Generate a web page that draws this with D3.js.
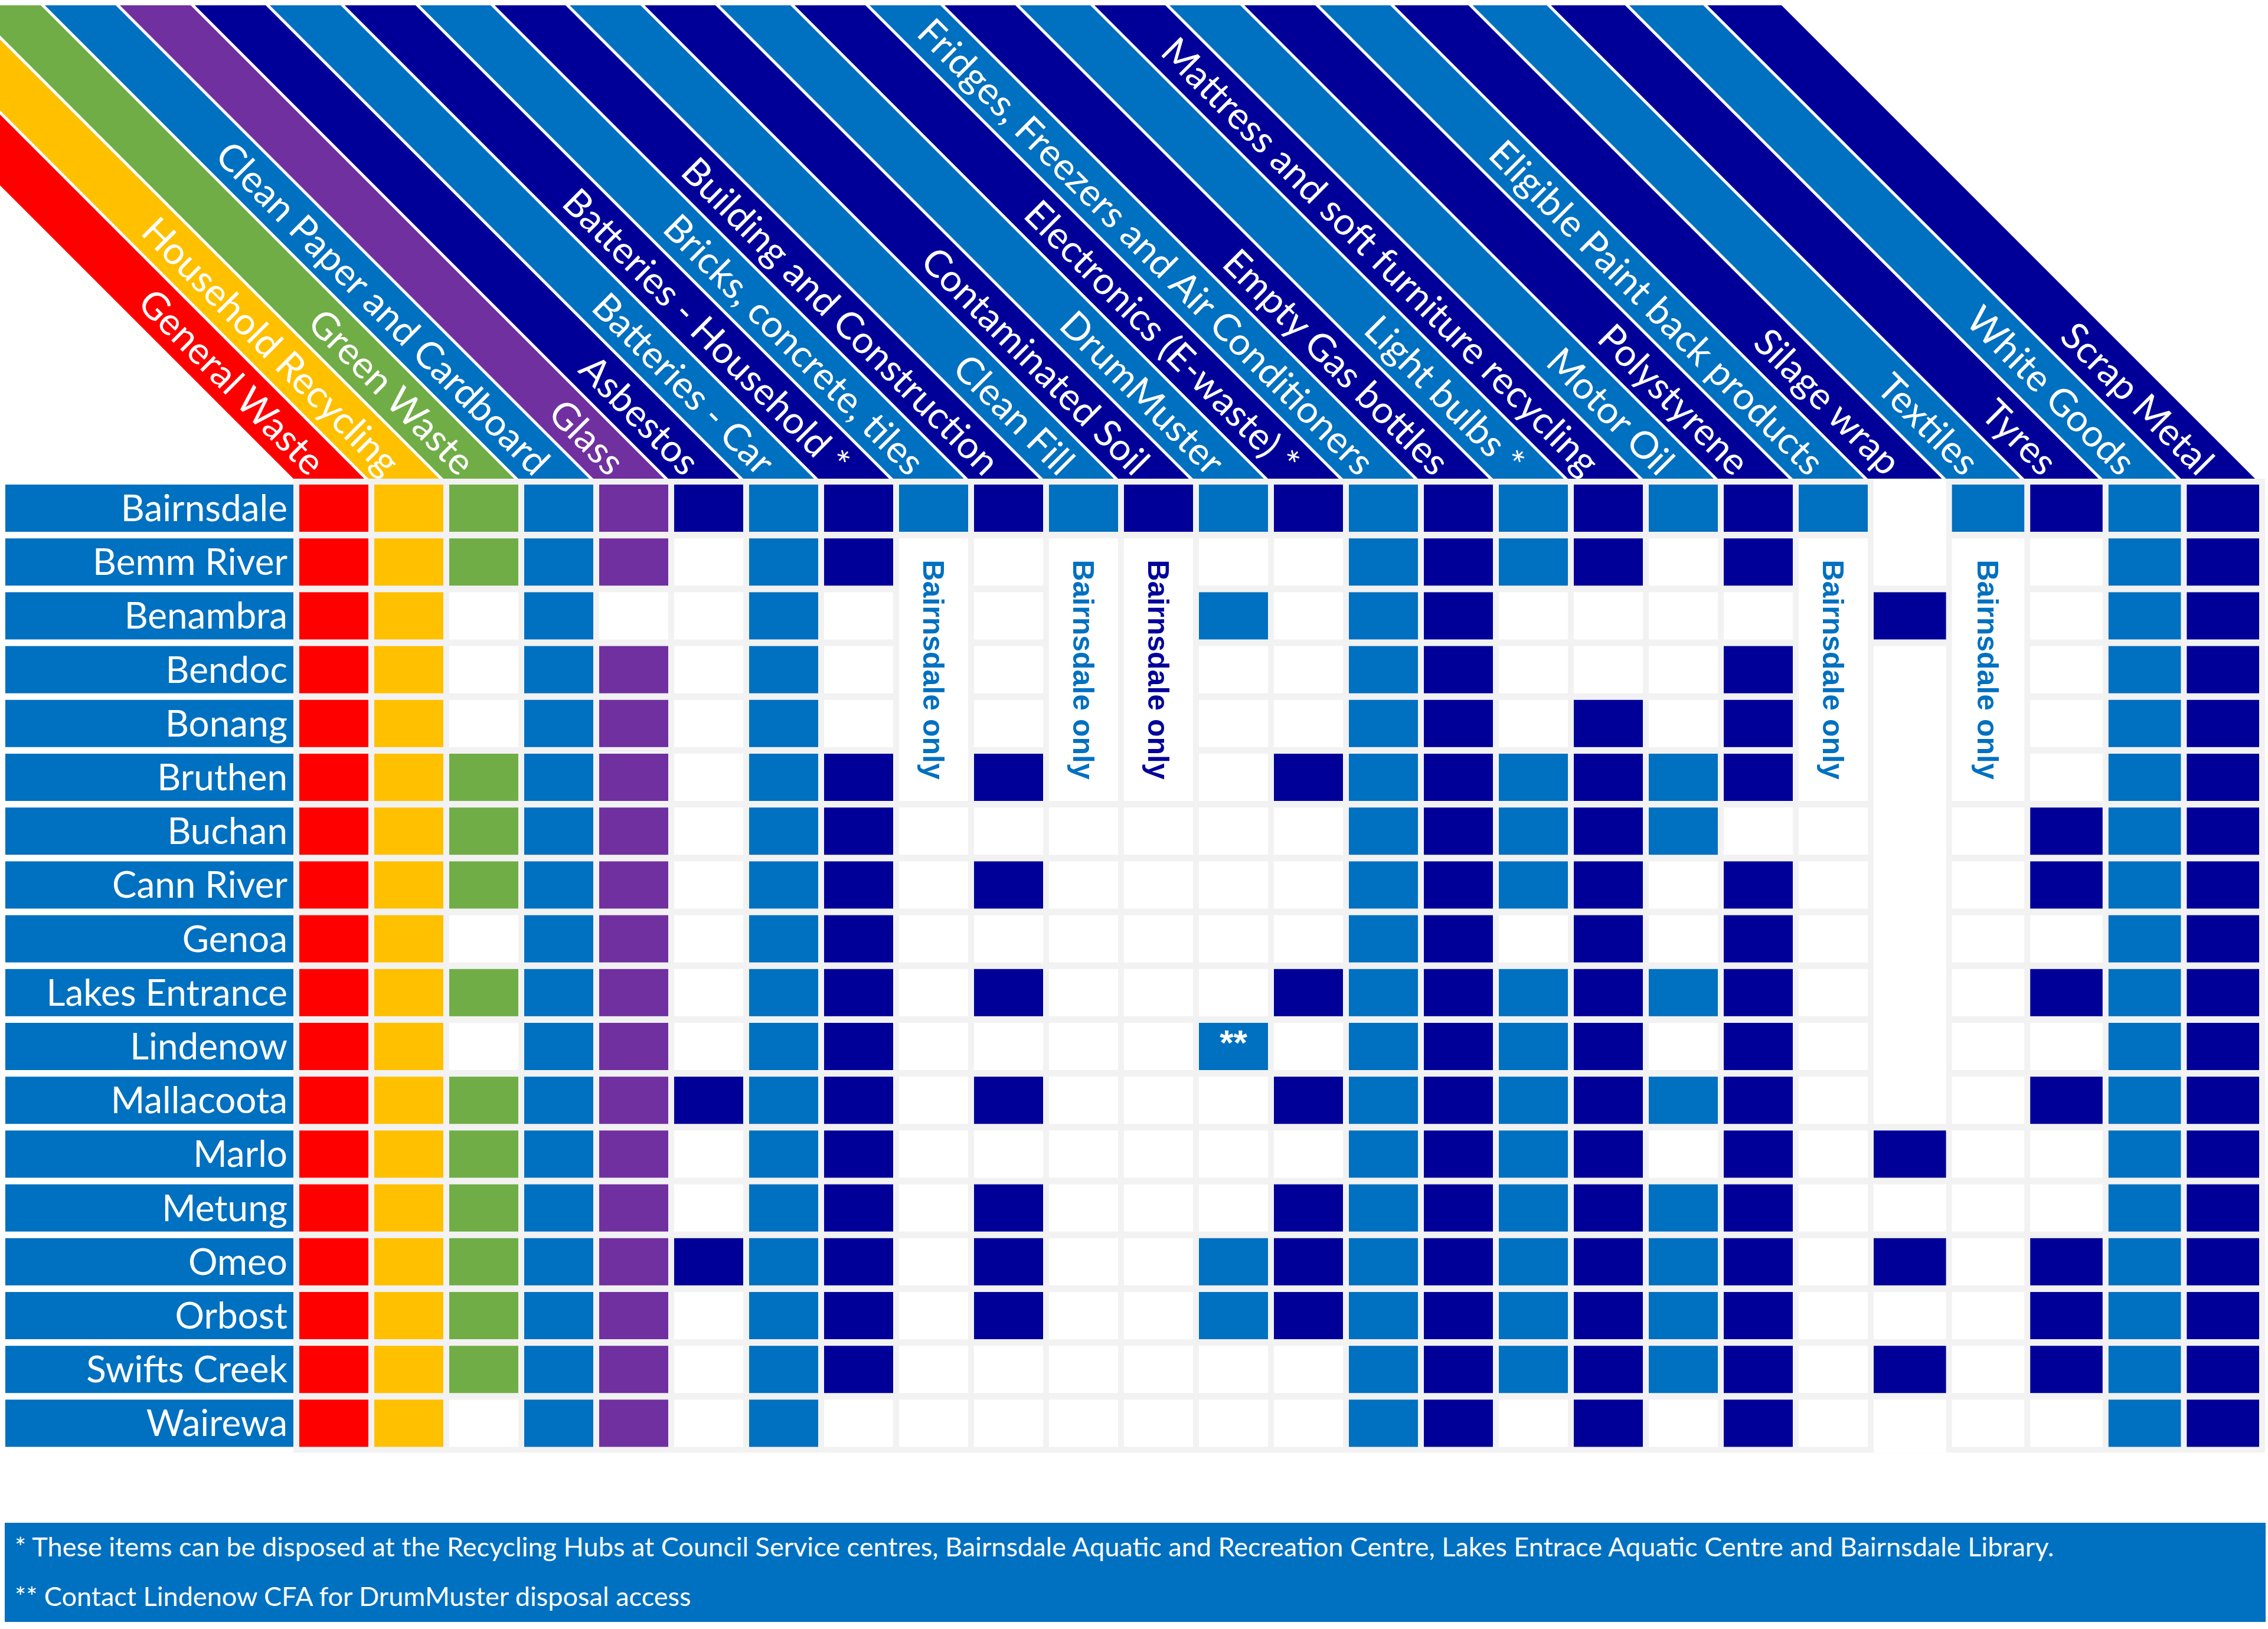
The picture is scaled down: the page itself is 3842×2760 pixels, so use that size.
<!DOCTYPE html>
<html>
<head>
<meta charset="utf-8">
<script src="https://cdn.jsdelivr.net/npm/d3@7/dist/d3.min.js"></script>
<style>
  html, body { margin: 0; padding: 0; background: #ffffff; }
  svg { display: block; }
</style>
</head>
<body>
<script>
// ---------------- DATA ----------------
const items = [
  "General Waste", "Household Recycling", "Green Waste", "Clean Paper and Cardboard",
  "Glass", "Asbestos", "Batteries - Car", "Batteries - Household *",
  "Bricks, concrete, tiles", "Building and Construction", "Clean Fill", "Contaminated Soil",
  "DrumMuster", "Electronics (E-waste) *", "Fridges, Freezers and Air Conditioners",
  "Empty Gas bottles", "Light bulbs *", "Mattress and soft furniture recycling",
  "Motor Oil", "Polystyrene", "Eligible Paint back products", "Silage wrap",
  "Textiles", "Tyres", "White Goods", "Scrap Metal"
];

const itemColors = [
  "#FF0000", "#FFC000", "#70AD47", "#0070C0", "#7030A0", "#000099",
  "#0070C0", "#000099", "#0070C0", "#000099", "#0070C0", "#000099",
  "#0070C0", "#000099", "#0070C0", "#000099", "#0070C0", "#000099",
  "#0070C0", "#000099", "#0070C0", "#000099", "#0070C0", "#000099",
  "#0070C0", "#000099"
];

const towns = [
  "Bairnsdale", "Bemm River", "Benambra", "Bendoc", "Bonang", "Bruthen",
  "Buchan", "Cann River", "Genoa", "Lakes Entrance", "Lindenow", "Mallacoota",
  "Marlo", "Metung", "Omeo", "Orbost", "Swifts Creek", "Wairewa"
];

// 1 = accepted at that site, 0 = not accepted (one character per item, grouped by 5)
const availability = [
  "11111 11111 11111 11111 10111 1", // Bairnsdale
  "11111 01100 00001 11101 00001 1", // Bemm River
  "11010 01000 00101 10000 01001 1", // Benambra
  "11011 01000 00001 10001 00001 1", // Bendoc
  "11011 01000 00001 10101 00001 1", // Bonang
  "11111 01101 00011 11111 00001 1", // Bruthen
  "11111 01100 00001 11110 00011 1", // Buchan
  "11111 01101 00001 11101 00011 1", // Cann River
  "11011 01100 00001 10101 00001 1", // Genoa
  "11111 01101 00011 11111 00011 1", // Lakes Entrance
  "11011 01100 00101 11101 00001 1", // Lindenow
  "11111 11101 00011 11111 00011 1", // Mallacoota
  "11111 01100 00001 11101 01001 1", // Marlo
  "11111 01101 00011 11111 00001 1", // Metung
  "11111 11101 00111 11111 01011 1", // Omeo
  "11111 01101 00111 11111 00011 1", // Orbost
  "11111 01100 00001 11111 01011 1", // Swifts Creek
  "11011 01000 00001 10101 00001 1"  // Wairewa
];

const bairnsdaleOnlyItems = ["Bricks, concrete, tiles", "Clean Fill", "Contaminated Soil",
                             "Eligible Paint back products", "Textiles"];
const bairnsdaleOnlyText = "Bairnsdale only";
const bairnsdaleOnlySpan = ["Bemm River", "Bruthen"];
const borderlessItems = ["Silage wrap"];
const cellNotes = [{ town: "Lindenow", item: "DrumMuster", text: "**" }];

const footnotes = [
  "* These items can be disposed at the Recycling Hubs at Council Service centres, Bairnsdale Aquatic and Recreation Centre, Lakes Entrace Aquatic Centre and Bairnsdale Library.",
  "** Contact Lindenow CFA for DrumMuster disposal access"
];

// ---------------- LAYOUT ----------------
const W = 3842, H = 2760;
const BLUE = "#0070C0", GRID = "#F2F2F2";
const labelFont = "Lato, 'Open Sans', 'DejaVu Sans', sans-serif";
const boldFont = "'Liberation Sans', Arial, sans-serif";

const svg = d3.select("body").append("svg")
  .attr("width", W).attr("height", H)
  .attr("viewBox", `0 0 ${W} ${H}`);

const colGap = 10;
const x = d3.scaleLinear().domain([0, 21, 26]).range([507, 3174, 3837]);
const rowPitch = 91.2, rowH = 80;
const y = d3.scaleLinear().domain([0, towns.length]).range([821, 821 + towns.length * rowPitch]);
const rowGap = rowPitch - rowH;
const cellW = i => x(i + 1) - x(i) - colGap;

const gridTop = y(0) - colGap;
const gridBottom = y(towns.length - 1) + rowH + colGap;
const gridLeft = x(0) - colGap;

const matrix = availability.map(s => s.replace(/\s+/g, "").split("").map(Number));

// ---------------- HEADER BANDS ----------------
const bandTop = 9, bandBottom = gridTop;
const bandH = bandBottom - bandTop;
const bands = svg.append("g").attr("class", "bands");

items.forEach((name, i) => {
  const xb = x(i) - colGap;
  const xr = x(i + 1) - colGap - 7;
  bands.append("polygon")
    .attr("points", [[xb, bandBottom], [xr, bandBottom], [xr - bandH, bandTop], [xb - bandH, bandTop]]
      .map(p => p.join(",")).join(" "))
    .attr("fill", itemColors[i]);
  const cx = (xb + xr) / 2 - 18, cy = bandBottom - 18;
  bands.append("text")
    .attr("transform", `translate(${cx},${cy}) rotate(45)`)
    .attr("text-anchor", "end")
    .attr("dy", "0.36em")
    .attr("fill", "#ffffff")
    .attr("font-family", labelFont)
    .attr("font-size", 64)
    .text(name);
});

// ---------------- GRID ----------------
svg.append("rect")
  .attr("x", gridLeft).attr("y", gridTop)
  .attr("width", x(items.length) - gridLeft)
  .attr("height", gridBottom - gridTop)
  .attr("fill", GRID);

// row label boxes
const rowsG = svg.append("g").attr("class", "rows");
towns.forEach((t, r) => {
  rowsG.append("rect")
    .attr("x", 9).attr("y", y(r))
    .attr("width", gridLeft - 9).attr("height", rowH)
    .attr("fill", BLUE);
  rowsG.append("text")
    .attr("x", gridLeft - 10).attr("y", y(r) + rowH / 2 + 22)
    .attr("text-anchor", "end")
    .attr("fill", "#ffffff")
    .attr("font-family", labelFont)
    .attr("font-size", 62)
    .text(t);
});

// cells
const cellsG = svg.append("g").attr("class", "cells");
matrix.forEach((row, r) => {
  row.forEach((v, c) => {
    if (borderlessItems.includes(items[c])) return;
    cellsG.append("rect")
      .attr("x", x(c)).attr("y", y(r))
      .attr("width", cellW(c)).attr("height", rowH)
      .attr("fill", v ? itemColors[c] : "#ffffff");
  });
});

// borderless columns (no horizontal rules except around filled cells)
borderlessItems.forEach(name => {
  const c = items.indexOf(name);
  cellsG.append("rect")
    .attr("x", x(c)).attr("y", gridTop)
    .attr("width", cellW(c)).attr("height", gridBottom - gridTop)
    .attr("fill", "#ffffff");
  matrix.forEach((row, r) => {
    if (!row[c]) return;
    cellsG.append("rect")
      .attr("x", x(c)).attr("y", y(r) - rowGap)
      .attr("width", cellW(c)).attr("height", rowH + 2 * rowGap)
      .attr("fill", GRID);
    cellsG.append("rect")
      .attr("x", x(c)).attr("y", y(r))
      .attr("width", cellW(c)).attr("height", rowH)
      .attr("fill", itemColors[c]);
  });
});

// "Bairnsdale only" merged cells
const r0 = towns.indexOf(bairnsdaleOnlySpan[0]);
const r1 = towns.indexOf(bairnsdaleOnlySpan[1]);
bairnsdaleOnlyItems.forEach(name => {
  const c = items.indexOf(name);
  const top = y(r0), bot = y(r1) + rowH;
  cellsG.append("rect")
    .attr("x", x(c)).attr("y", top)
    .attr("width", cellW(c)).attr("height", bot - top)
    .attr("fill", "#ffffff");
  cellsG.append("text")
    .attr("transform", `translate(${x(c) + cellW(c) / 2},${(top + bot) / 2}) rotate(90)`)
    .attr("text-anchor", "middle")
    .attr("dy", "0.36em")
    .attr("fill", itemColors[c])
    .attr("font-family", boldFont)
    .attr("font-weight", "bold")
    .attr("font-size", 50)
    .text(bairnsdaleOnlyText);
});

// notes inside cells
cellNotes.forEach(n => {
  const c = items.indexOf(n.item), r = towns.indexOf(n.town);
  cellsG.append("text")
    .attr("x", x(c) + cellW(c) / 2).attr("y", y(r) + 54)
    .attr("text-anchor", "middle")
    .attr("fill", "#ffffff")
    .attr("font-family", boldFont)
    .attr("font-weight", "bold")
    .attr("font-size", 60)
    .text(n.text);
});

// ---------------- FOOTER ----------------
const footTop = 2580, footBottom = 2748;
svg.append("rect")
  .attr("x", 8).attr("y", footTop)
  .attr("width", 3830).attr("height", footBottom - footTop)
  .attr("fill", BLUE);

const footG = svg.append("g");
const footTexts = footG.selectAll("text").data(footnotes).join("text")
  .attr("x", 25)
  .attr("y", (d, i) => 2637 + i * 84)
  .attr("fill", "#ffffff")
  .attr("font-family", labelFont)
  .attr("font-size", 48)
  .text(d => d);
// fit the first line to its width in the original layout
const firstLen = footTexts.nodes()[0].getComputedTextLength();
const fs = 48 * 3455 / firstLen;
footTexts.attr("font-size", fs);
</script>
</body>
</html>
